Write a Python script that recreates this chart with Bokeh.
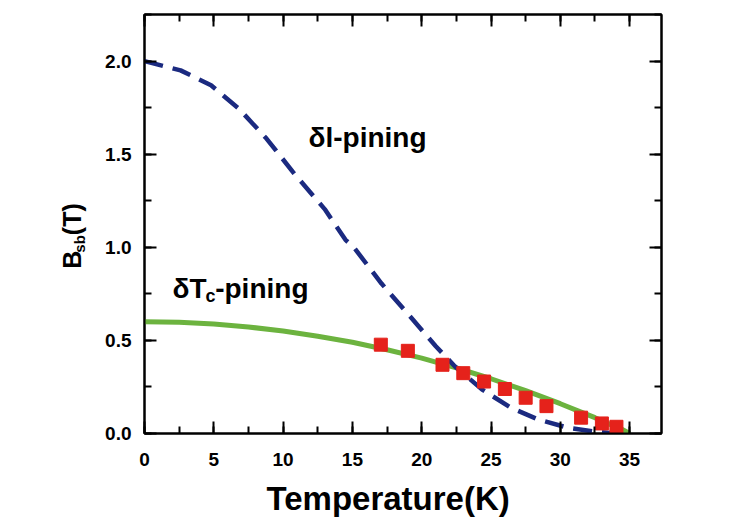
import math
from bokeh.plotting import figure
from bokeh.layouts import row
from bokeh.models import (Range1d, LinearAxis, SingleIntervalTicker, PrintfTickFormatter,
                          Label, Title)
from bokeh.embed import file_html
from bokeh.resources import INLINE

# ---- data ----
# delta-l pinning (dashed blue)
dl_T = [0.0, 2.6, 4.8, 6.8, 8.8, 10.8, 13.0, 14.5, 15.1, 17.1, 19.1, 21.0, 22.4, 24.4, 26.4, 28.4, 30.6, 32.5, 34.0, 35.0]
dl_B = [2.00, 1.95, 1.87, 1.745, 1.584, 1.396, 1.205, 1.04, 1.00, 0.805, 0.634, 0.47, 0.36, 0.234, 0.14, 0.075, 0.03, 0.01, 0.0, 0.0]

# delta-Tc pinning (solid green)
dtc_T = [0.0, 2.5, 5.0, 7.5, 10.0, 12.5, 15.0, 17.5, 20.0, 22.5, 25.0, 27.5, 30.0, 31.5, 32.5, 33.5, 34.3, 35.0]
dtc_B = [0.600, 0.597, 0.588, 0.572, 0.550, 0.522, 0.490, 0.450, 0.405, 0.352, 0.294, 0.230, 0.160, 0.115, 0.085, 0.052, 0.028, 0.0]

# experimental points (red squares)
exp_T = [17.05, 19.0, 21.5, 23.0, 24.5, 26.0, 27.5, 29.0, 31.5, 33.0, 34.05]
exp_B = [0.477, 0.444, 0.369, 0.324, 0.279, 0.239, 0.192, 0.147, 0.085, 0.054, 0.036]

x_ticks_interval = 5
y_ticks_interval = 0.5
x_title = "Temperature(K)"
y_title_parts = ["B", "sb", "(T)"]
curve_labels = ["δl-pining", "δT", "c", "-pining"]

FONT = "Liberation Sans"
LEFT_W = 90
TOTAL_W = 745
H = 526

# ---- narrow figure that carries the rotated y title ----
lab = figure(width=LEFT_W, height=H, output_backend="svg", toolbar_location=None,
             x_range=Range1d(0, LEFT_W), y_range=Range1d(H, 0),
             min_border=0, x_axis_type=None, y_axis_type=None)
lab.xgrid.visible = False
lab.ygrid.visible = False
lab.outline_line_color = None
lab.background_fill_color = "white"
lab.border_fill_color = "white"
for txt, cx, cy, fs in [(y_title_parts[0], 71, 308, "25px"),
                        (y_title_parts[1], 79, 288, "15px"),
                        (y_title_parts[2], 71, 257, "25px")]:
    lab.add_layout(Label(x=cx, y=cy, text=txt, text_font=FONT, text_font_style="bold",
                         text_font_size=fs, text_color="black", angle=math.pi / 2,
                         text_align="center", text_baseline="middle"))

# ---- main chart ----
p = figure(width=TOTAL_W - LEFT_W, height=H, output_backend="svg", toolbar_location=None,
           x_range=Range1d(0, 37.3), y_range=Range1d(0, 2.25),
           min_border_left=144 - LEFT_W, min_border_right=TOTAL_W - 661,
           min_border_top=14, min_border_bottom=H - 433,
           x_axis_type=None, y_axis_type=None)
p.xgrid.visible = False
p.ygrid.visible = False
p.outline_line_color = "black"
p.outline_line_width = 2
p.background_fill_color = "white"
p.border_fill_color = "white"


def style_axis(ax, show_labels, standoff):
    ax.axis_line_width = 2
    ax.axis_line_color = "black"
    ax.major_tick_line_width = 2
    ax.minor_tick_line_width = 2
    ax.major_tick_in = 12
    ax.major_tick_out = 0
    ax.minor_tick_in = 7
    ax.minor_tick_out = 0
    ax.major_label_text_font = FONT
    ax.major_label_text_font_style = "bold"
    ax.major_label_text_font_size = "19px"
    ax.major_label_text_color = "black"
    ax.major_label_standoff = standoff
    if not show_labels:
        ax.major_label_text_alpha = 0
        ax.major_label_text_font_size = "1px"


xb = LinearAxis(ticker=SingleIntervalTicker(interval=x_ticks_interval, num_minor_ticks=2))
style_axis(xb, True, 19)
p.add_layout(xb, "below")
xt = LinearAxis(ticker=SingleIntervalTicker(interval=x_ticks_interval, num_minor_ticks=2))
style_axis(xt, False, 0)
p.add_layout(xt, "above")

yl = LinearAxis(ticker=SingleIntervalTicker(interval=y_ticks_interval, num_minor_ticks=2),
                formatter=PrintfTickFormatter(format="%.1f"))
style_axis(yl, True, 13)
p.add_layout(yl, "left")
yr = LinearAxis(ticker=SingleIntervalTicker(interval=y_ticks_interval, num_minor_ticks=2))
style_axis(yr, False, 0)
p.add_layout(yr, "right")

p.add_layout(Title(text=x_title, align="left", offset=122, standoff=18,
                   text_font=FONT, text_font_style="bold", text_font_size="33px",
                   text_color="black"), "below")

# curves
p.line(dtc_T, dtc_B, line_color="#6cb33f", line_width=5)
p.line(dl_T, dl_B, line_color="#1b2a80", line_width=4.5, line_dash="19 10")
p.scatter(exp_T, exp_B, marker="square", size=13, fill_color="#e5221b", line_color="#e5221b")

# in-plot labels
p.add_layout(Label(x=11.83, y=1.59, text=curve_labels[0], text_font=FONT, text_font_style="bold",
                   text_font_size="28px", text_color="black", text_baseline="alphabetic"))
p.add_layout(Label(x=2.02, y=0.78, text=curve_labels[1], text_font=FONT, text_font_style="bold",
                   text_font_size="28px", text_color="black", text_baseline="alphabetic"))
p.add_layout(Label(x=4.4, y=0.74, text=curve_labels[2], text_font=FONT, text_font_style="bold",
                   text_font_size="18px", text_color="black", text_baseline="alphabetic"))
p.add_layout(Label(x=5.1, y=0.78, text=curve_labels[3], text_font=FONT, text_font_style="bold",
                   text_font_size="28px", text_color="black", text_baseline="alphabetic"))

layout = row(lab, p)
open("out.html", "w").write(file_html(layout, INLINE))
